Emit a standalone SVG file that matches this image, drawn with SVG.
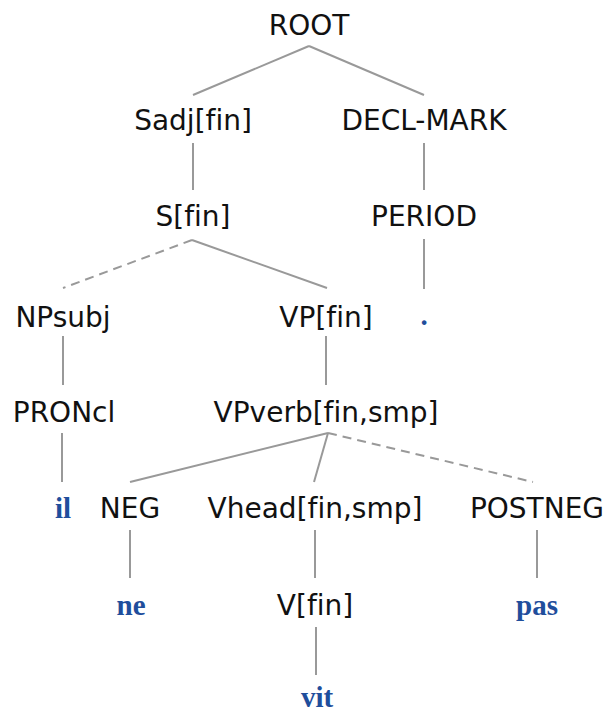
<svg xmlns="http://www.w3.org/2000/svg" width="611" height="715" viewBox="0 0 611 715">
  <style>
    .lbl { font-family: "DejaVu Sans", Verdana, sans-serif; font-size: 28px; fill: #111; text-anchor: middle; font-variant-ligatures: none; }
    .word { font-family: "Liberation Serif", "Times New Roman", serif; font-size: 29px; font-weight: bold; fill: #1f4e9c; text-anchor: middle; }
    .edge { stroke: #999; stroke-width: 2; fill: none; }
    .opt { stroke-dasharray: 9 6; }
  </style>
  <rect width="611" height="715" fill="#fff"/>

  <g id="connectors">
    <line class="edge" x1="309" y1="46" x2="193" y2="95"/>
    <line class="edge" x1="309" y1="46" x2="424" y2="95"/>
    <line class="edge" x1="193" y1="143" x2="193" y2="190"/>
    <line class="edge" x1="424" y1="143" x2="424" y2="190"/>
    <line class="edge opt" x1="192" y1="240" x2="63" y2="288"/>
    <line class="edge" x1="192" y1="240" x2="327" y2="288"/>
    <line class="edge" x1="424" y1="239" x2="424" y2="289"/>
    <line class="edge" x1="63" y1="336" x2="63" y2="385"/>
    <line class="edge" x1="326" y1="336" x2="326" y2="385"/>
    <line class="edge" x1="62" y1="433" x2="62" y2="482"/>
    <line class="edge" x1="328" y1="433" x2="130" y2="482"/>
    <line class="edge" x1="328" y1="433" x2="314" y2="482"/>
    <line class="edge opt" x1="328" y1="433" x2="533" y2="482"/>
    <line class="edge" x1="130" y1="530" x2="130" y2="578"/>
    <line class="edge" x1="315" y1="530" x2="315" y2="578"/>
    <line class="edge" x1="537" y1="530" x2="537" y2="578"/>
    <line class="edge" x1="316" y1="627" x2="316" y2="675"/>
  </g>

  <g id="root"><text class="lbl" x="309" y="35">ROOT</text></g>
  <g id="sadj"><text class="lbl" x="193" y="130">Sadj[fin]</text></g>
  <g id="declmark"><text class="lbl" x="424" y="130">DECL-MARK</text></g>
  <g id="s"><text class="lbl" x="193" y="226">S[fin]</text></g>
  <g id="period"><text class="lbl" x="424" y="226">PERIOD</text></g>
  <g id="npsubj"><text class="lbl" x="63" y="327">NPsubj</text></g>
  <g id="vp"><text class="lbl" x="326" y="327">VP[fin]</text></g>
  <g id="w-period"><text class="word" x="424" y="325">.</text></g>
  <g id="proncl"><text class="lbl" x="64" y="422">PRONcl</text></g>
  <g id="vpverb"><text class="lbl" x="326" y="422">VPverb[fin,smp]</text></g>
  <g id="w-il"><text class="word" x="63" y="518">il</text></g>
  <g id="neg"><text class="lbl" x="130" y="518">NEG</text></g>
  <g id="vhead"><text class="lbl" x="315" y="518">Vhead[fin,smp]</text></g>
  <g id="postneg"><text class="lbl" x="537" y="518">POSTNEG</text></g>
  <g id="w-ne"><text class="word" x="131" y="615">ne</text></g>
  <g id="v"><text class="lbl" x="315" y="615">V[fin]</text></g>
  <g id="w-pas"><text class="word" x="537" y="615">pas</text></g>
  <g id="w-vit"><text class="word" x="317" y="707">vit</text></g>
</svg>
